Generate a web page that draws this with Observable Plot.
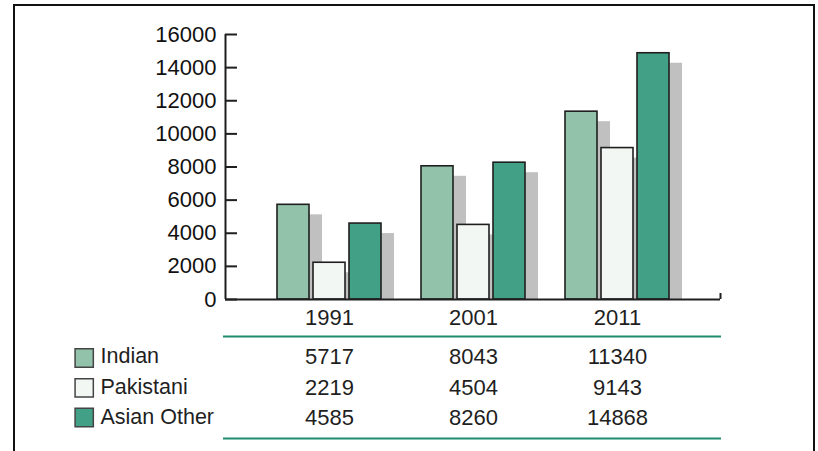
<!DOCTYPE html>
<html><head><meta charset="utf-8">
<script src="https://cdn.jsdelivr.net/npm/d3@7"></script>
<script src="https://cdn.jsdelivr.net/npm/@observablehq/plot@0.6"></script>
<style>
html,body{margin:0;padding:0;background:#fff;overflow:hidden}
#wrap{position:relative;width:818px;height:451px;overflow:hidden;background:#fff}
#border{position:absolute;left:13px;top:4px;width:798px;height:490px;border:2px solid #111;}
#chart{position:absolute;left:0;top:0}
</style></head><body>
<div id="wrap"><div id="border"></div><div id="chart"></div></div>
<script>
const years = ["1991", "2001", "2011"];
const series = ["Indian", "Pakistani", "Asian Other"];
const indian = [5717, 8043, 11340];
const pakistani = [2219, 4504, 9143];
const asianOther = [4585, 8260, 14868];
const yTicks = [0, 2000, 4000, 6000, 8000, 10000, 12000, 14000, 16000];
const colors = ["#93c2ab", "#f3f7f4", "#42a086"];

const valuesBySeries = [indian, pakistani, asianOther];
const rowsBySeries = series.map((s, i) => years.map((y, j) => ({year: y, series: s, value: valuesBySeries[i][j]})));

const ink = "#1f1f1f";
const green = "#1e8c6e";
const barOffset = [-36, 0, 36];
const textDy = [57, 88, 118];
const swatchDy = [58.5, 88.3, 118];
const numFont = 22;
const labelFont = 21.5;
const halfFrame = (818 - 225 - 98) / 2;

const marks = [];
// shadows
rowsBySeries.forEach((rows, i) => {
  marks.push(Plot.barY(rows, {x: "year", y: "value", fill: "#c0c0c0", dx: barOffset[i] + 13, insetTop: 10}));
});
// bars
rowsBySeries.forEach((rows, i) => {
  marks.push(Plot.barY(rows, {x: "year", y: "value", fill: colors[i], stroke: ink, strokeWidth: 1.6, dx: barOffset[i]}));
});
// axes
marks.push(Plot.ruleY([0], {stroke: ink, strokeWidth: 2}));
marks.push(Plot.ruleX([0], {x: null, y1: 0, y2: 16000, dx: -halfFrame, stroke: ink, strokeWidth: 2}));
marks.push(Plot.ruleX([0], {x: null, y1: 0, y2: 0, insetBottom: 6, dx: halfFrame, stroke: ink, strokeWidth: 2}));
marks.push(Plot.axisY({ticks: yTicks, tickSize: -12, tickPadding: 21, stroke: ink, strokeWidth: 2, fontSize: numFont, tickFormat: d => String(d), label: null, fill: "#111"}));
marks.push(Plot.axisX({tickSize: 0, tickPadding: 10, fontSize: numFont, label: null}));
// table rules
marks.push(Plot.ruleY([0], {dy: 37, stroke: green, strokeWidth: 2, insetLeft: -2, insetRight: -1}));
marks.push(Plot.ruleY([0], {dy: 139, stroke: green, strokeWidth: 2, insetLeft: -2, insetRight: -1}));
// table values + legend
rowsBySeries.forEach((rows, i) => {
  marks.push(Plot.text(rows, {x: "year", text: d => String(d.value), frameAnchor: "bottom", lineAnchor: "middle", dy: textDy[i], fontSize: numFont, fill: ink}));
  marks.push(Plot.dot([series[i]], {frameAnchor: "bottom-left", symbol: "square", r: 10.3, fill: colors[i], stroke: "#444", strokeWidth: 1.5, dx: -141.3, dy: swatchDy[i]}));
  marks.push(Plot.text([series[i]], {frameAnchor: "bottom-left", lineAnchor: "middle", text: d => d, textAnchor: "start", dx: -125, dy: textDy[i], fontSize: labelFont, fill: ink}));
});

const chart = Plot.plot({
  width: 818,
  height: 451,
  marginLeft: 225,
  marginRight: 98,
  marginTop: 34,
  marginBottom: 152,
  x: {domain: years, paddingInner: 1 - 32 / 144, paddingOuter: 0.6076, align: 0.5},
  y: {domain: [0, 16000]},
  style: {fontFamily: "'Liberation Sans', Arial, sans-serif", fontSize: "21px", color: ink, background: "transparent", overflow: "visible"},
  marks
});
document.getElementById("chart").appendChild(chart);
</script>
</body></html>
